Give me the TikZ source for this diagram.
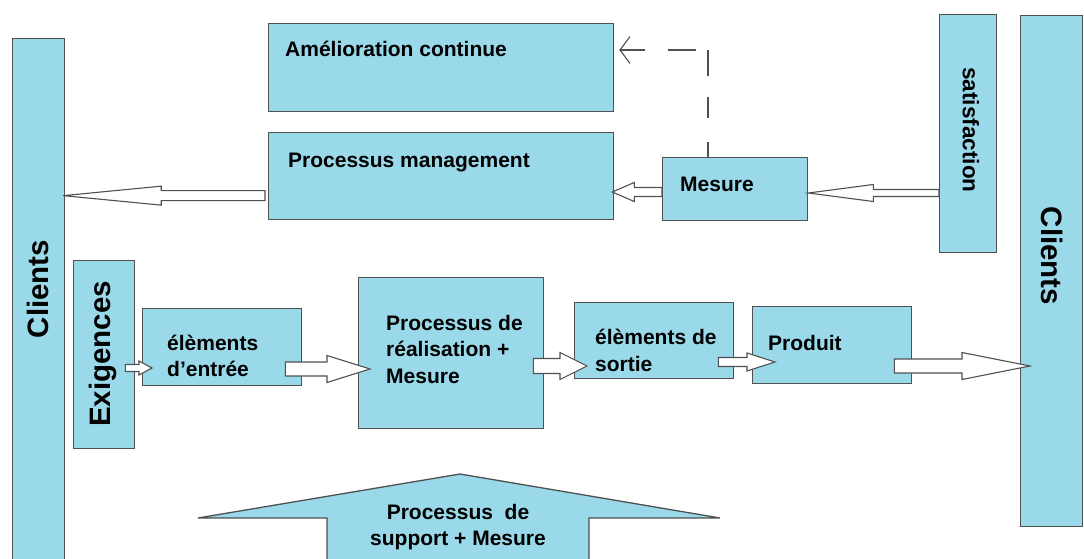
\documentclass[tikz,border=0pt]{standalone}
\usepackage{fontspec}
\setmainfont{Liberation Sans}
\usetikzlibrary{calc,arrows.meta}
\definecolor{boxblue}{RGB}{154,217,234}
\definecolor{edgegray}{RGB}{80,80,80}
\tikzset{
  box/.style={draw=edgegray, line width=1.3pt, fill=boxblue, rectangle, inner sep=0pt, anchor=north west},
  lbl/.style={font=\fontsize{21}{26.5}\selectfont\bfseries, inner sep=0pt, anchor=west, align=left},
  biglbl/.style={font=\fontsize{29.5}{34}\selectfont\bfseries, inner sep=0pt},
  harrow/.style={draw=edgegray, line width=1.1pt, fill=white, line join=miter},
  dasharrow/.style={draw=edgegray, line width=1.3pt, dash pattern=on 15pt off 24pt on 21pt off 21pt on 26pt off 12pt on 28pt off 23pt on 40pt off 200pt, -{Straight Barb[length=10pt,width=27pt,line width=1.1pt]}}
}
% #1 start, #2 tip, #3 shaft half width, #4 head half width, #5 head length
\newcommand\blockarr[5]{%
  \draw[harrow] let \p1=(#1), \p2=(#2), \p3=($(#2)!#5pt!(#1)$) in
    (\x1,\y1+#3pt) -- (\x3,\y1+#3pt) -- (\x3,\y1+#4pt) -- (\x2,\y1)
    -- (\x3,\y1-#4pt) -- (\x3,\y1-#3pt) -- (\x1,\y1-#3pt) -- cycle;}
\begin{document}
\begin{tikzpicture}[x=1pt,y=-1pt]
\useasboundingbox[fill=white] (0,0) rectangle (1084,559);
% boxes
\node[box, minimum width=52pt, minimum height=530pt] (clientsL) at (12,38) {};
\node[box, minimum width=62pt, minimum height=511pt] (clientsR) at (1020,15) {};
\node[box, minimum width=57pt, minimum height=238pt] (satisf) at (939,14) {};
\node[box, minimum width=345pt, minimum height=88pt] (amel) at (268,23) {};
\node[box, minimum width=345pt, minimum height=87pt] (pm) at (268,132) {};
\node[box, minimum width=145pt, minimum height=63pt] (mesure) at (662,157) {};
\node[box, minimum width=61pt, minimum height=188pt] (exig) at (73,260) {};
\node[box, minimum width=159pt, minimum height=77pt] (entree) at (142,308) {};
\node[box, minimum width=185pt, minimum height=151pt] (real) at (358,277) {};
\node[box, minimum width=159pt, minimum height=76pt] (sortie) at (574,302) {};
\node[box, minimum width=159pt, minimum height=77pt] (produit) at (752,306) {};
% support block arrow
\draw[draw=edgegray, line width=1.3pt, fill=boxblue] (327,570) -- (327,518) -- (198,518) -- (460,474) -- (720,518) -- (589,518) -- (589,570);
% texts
\node[biglbl, rotate=90] (tcl) at (38,289) {Clients};
\node[biglbl, rotate=-90] (tcr) at (1052,256) {Clients};
\node[biglbl, rotate=90] (tex) at (103,354) {Exigences};
\node[font=\fontsize{22.5}{26}\selectfont\bfseries, inner sep=0pt, rotate=-90] (tsat) at (971,130) {satisfaction};
\node[lbl] (tam) at (285,49) {Amélioration continue};
\node[lbl] (tpm) at (288,163) {Processus management};
\node[lbl] (tme) at (680,184) {Mesure};
\node[lbl] (ten) at (167,356) {élèments\\d'entrée};
\node[lbl] (tre) at (386,349) {Processus de\\réalisation +\\Mesure};
\node[lbl] (tso) at (595,350.5) {élèments de\\sortie};
\node[lbl] (tpr) at (768,343) {Produit};
\node[lbl, anchor=center, align=center] (tsu) at (458,527) {Processus~~de\\support + Mesure};
% hollow arrows
\blockarr{$(pm.west)+(-3,19.5)$}{$(clientsL.east |- 0,195)+(-2,0)$}{5}{9.5}{98}
\blockarr{mesure.west |- 0,192}{$(pm.east |- 0,192)+(-2,0)$}{4.5}{9.5}{22}
\blockarr{satisf.west |- 0,193}{mesure.east |- 0,193}{3.5}{8.5}{65}
\blockarr{$(exig.east |- 0,368)+(-10,0)$}{$(entree.west |- 0,368)+(10,0)$}{3.5}{7}{13}
\blockarr{$(entree.east |- 0,369)+(-17,0)$}{$(real.west |- 0,369)+(12,0)$}{7}{13.5}{43}
\blockarr{$(real.east |- 0,366)+(-11,0)$}{$(sortie.west |- 0,366)+(13,0)$}{7.5}{13.5}{27}
\blockarr{$(sortie.east |- 0,362)+(-16,0)$}{$(produit.west |- 0,362)+(23,0)$}{4.5}{9}{28}
\blockarr{$(produit.east |- 0,366)+(-18,0)$}{$(clientsR.west |- 0,366)+(10,0)$}{7}{13.5}{68}
% dashed feedback
\coordinate (dtop) at (mesure.north -| 708,0);
\draw[dasharrow] (dtop) -- (708,50) -- ($(amel.east |- 0,50)+(5,0)$);
\end{tikzpicture}
\end{document}
